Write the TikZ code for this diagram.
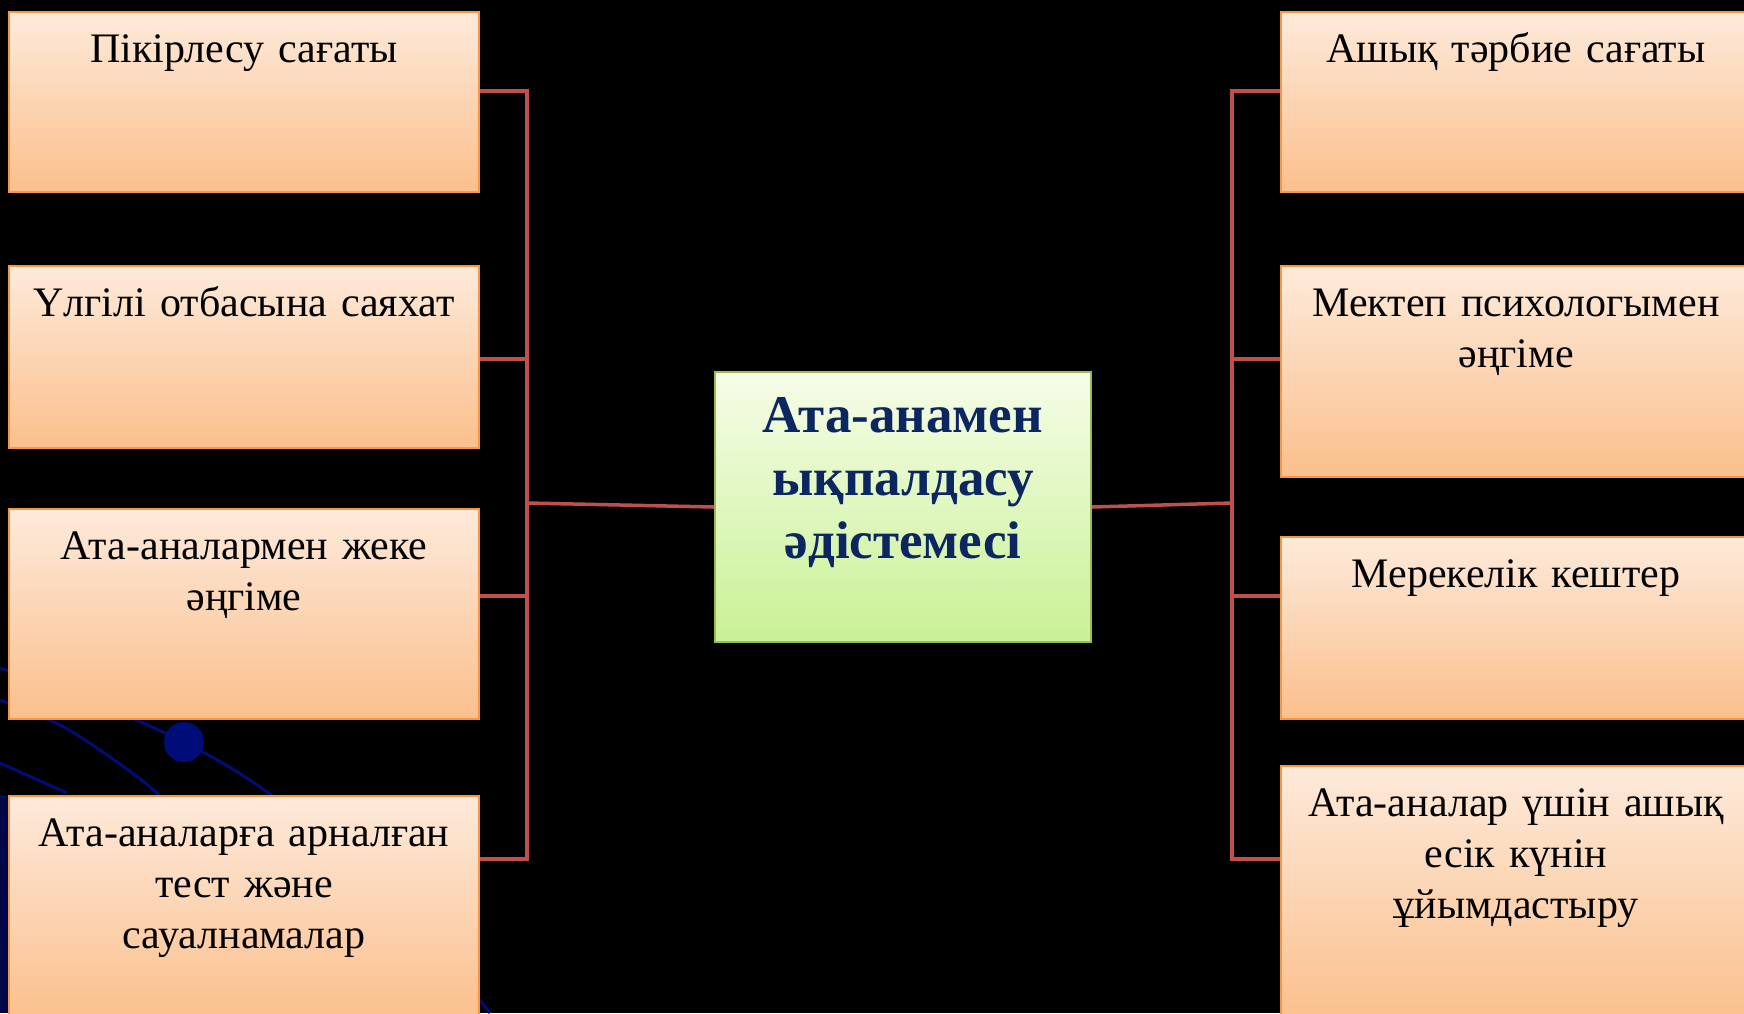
\documentclass[tikz,border=0pt]{standalone}
\usepackage{fontspec}
\setmainfont{Liberation Serif}
\definecolor{itemtop}{HTML}{FDEADA}
\definecolor{itembot}{HTML}{FBBF8C}
\definecolor{itemedge}{HTML}{F79646}
\definecolor{coretop}{HTML}{F6FDE8}
\definecolor{corebot}{HTML}{C9F195}
\definecolor{coreedge}{HTML}{9BBB59}
\definecolor{coreink}{HTML}{0B2660}
\definecolor{linkred}{HTML}{C0504D}
\definecolor{swirl}{HTML}{000C78}
\tikzset{
  item/.style={draw=itemedge, line width=1pt, top color=itemtop, bottom color=itembot,
    minimum width=235pt, inner sep=0pt, anchor=north},
  itemtext/.style={anchor=base, text width=232pt, align=center, inner sep=0pt,
    font=\fontsize{21}{25.5}\selectfont},
  core/.style={draw=coreedge, line width=1pt, top color=coretop, bottom color=corebot,
    minimum width=188pt, minimum height=135pt, inner sep=0pt, anchor=north},
  coretext/.style={anchor=base, text width=186pt, align=center, inner sep=0pt,
    text=coreink, font=\fontsize{26.5}{31.5}\selectfont\bfseries},
  link/.style={draw=linkred, line width=1.75pt},
}
\begin{document}
\begin{tikzpicture}[x=0.5pt, y=-0.5pt]
	\useasboundingbox (0,0) rectangle (1744,1013);
	\clip (0,0) rectangle (1744,1013);
	\fill[black] (0,0) rectangle (1744,1013);
	% background swirls
	\fill[swirl!60!black] (0,795) rectangle (9,1013);
	\draw[swirl, line width=1.5pt] plot[smooth] coordinates {(0,668) (100,705) (184,742) (260,787) (380,880) (490,1013)};
	\draw[swirl, line width=1.5pt] plot[smooth] coordinates {(0,700) (60,725) (110,757) (157,793) (200,840)};
	\draw[swirl, line width=1.5pt] (0,763) -- (67,793);
	\fill[swirl] (184,742) circle(20);
	% left column
	\node[item, minimum height=90pt] (l1) at (244,11) {};
	\node[item, minimum height=91pt] (l2) at (244,265) {};
	\node[item, minimum height=105pt] (l3) at (244,508) {};
	\node[item, minimum height=113pt] (l4) at (244,795) {};
	\node[itemtext] (l1t) at ([yshift=-25.5pt]l1.north) {Пікірлесу сағаты};
	\node[itemtext] (l2t) at ([yshift=-25.5pt]l2.north) {Үлгілі отбасына саяхат};
	\node[itemtext] (l3t) at ([yshift=-25.5pt]l3.north) {Ата-аналармен жеке\\әңгіме};
	\node[itemtext] (l4t) at ([yshift=-25.5pt]l4.north) {Ата-аналарға арналған\\тест және\\сауалнамалар};
	% right column
	\node[item, minimum height=90pt] (r1) at (1516,11) {};
	\node[item, minimum height=105.5pt] (r2) at (1516,265) {};
	\node[item, minimum height=91pt] (r3) at (1516,536) {};
	\node[item, minimum height=128pt] (r4) at (1516,765) {};
	\node[itemtext] (r1t) at ([yshift=-25.5pt]r1.north) {Ашық тәрбие сағаты};
	\node[itemtext] (r2t) at ([yshift=-25.5pt]r2.north) {Мектеп психологымен\\әңгіме};
	\node[itemtext] (r3t) at ([yshift=-25.5pt]r3.north) {Мерекелік кештер};
	\node[itemtext] (r4t) at ([yshift=-25.5pt]r4.north) {Ата-аналар үшін ашық\\есік күнін\\ұйымдастыру};
	% centre
	\node[core] (c) at (903,371) {};
	\node[coretext] (ct) at ([yshift=-30.5pt]c.north) {Ата-анамен\\ықпалдасу\\әдістемесі};
	% connectors
	\coordinate (lb1) at (527,91);
	\coordinate (lb2) at (527,359);
	\coordinate (lb3) at (527,596);
	\coordinate (lb4) at (527,859);
	\coordinate (lbc) at (527,503);
	\coordinate (rb1) at (1232,91);
	\coordinate (rb2) at (1232,359);
	\coordinate (rb3) at (1232,596);
	\coordinate (rb4) at (1232,859);
	\coordinate (rbc) at (1232,503);
	\draw[link] (l1.east |- lb1) -- (lb1) -- (lb4) -- (l4.east |- lb4);
	\draw[link] (l2.east |- lb2) -- (lb2);
	\draw[link] (l3.east |- lb3) -- (lb3);
	\draw[link] (lbc) -- (c.west);
	\draw[link] (r1.west |- rb1) -- (rb1) -- (rb4) -- (r4.west |- rb4);
	\draw[link] (r2.west |- rb2) -- (rb2);
	\draw[link] (r3.west |- rb3) -- (rb3);
	\draw[link] (c.east) -- (rbc);
\end{tikzpicture}
\end{document}
